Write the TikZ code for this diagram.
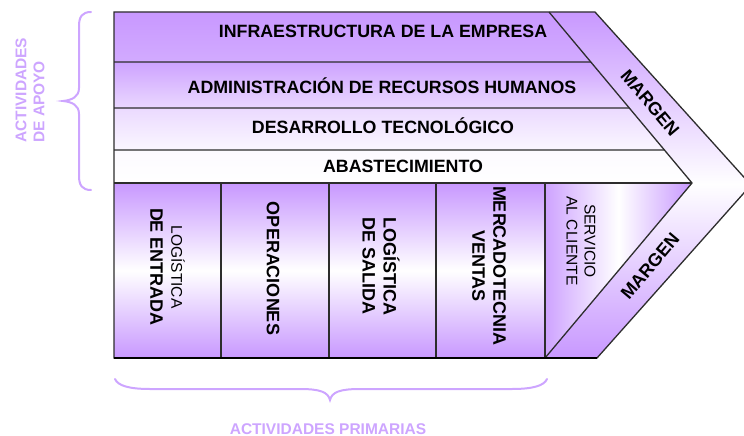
\documentclass[tikz,border=0pt]{standalone}
\usepackage{fontspec}
\setmainfont{Liberation Sans}
\usetikzlibrary{calc}
\definecolor{vp}{RGB}{200,152,255}
\definecolor{vline}{RGB}{45,45,45}
\definecolor{brc}{RGB}{205,165,255}
\begin{document}
\begin{tikzpicture}[x=1pt,y=1pt,
  edge/.style={draw=vline, line width=1.3pt, line join=miter},
  rowlab/.style={anchor=base, inner sep=0pt, font=\fontsize{17.8}{20}\selectfont\bfseries},
  collab/.style={rotate=-90, align=center, inner sep=0pt, font=\fontsize{18}{21}\selectfont\bfseries},
  marglab/.style={inner sep=0pt, font=\fontsize{18}{20}\selectfont\bfseries},
  bracestyle/.style={draw=brc, line width=2pt, line cap=round},
  sidelab/.style={text=brc, inner sep=0pt, font=\fontsize{15.5}{18}\selectfont\bfseries}]
\useasboundingbox (0,0) rectangle (744,-436);
% key points
\coordinate (TL) at (114,-12);
\coordinate (iT) at (549,-12);
\coordinate (oT) at (595,-12);
\coordinate (iP) at (692,-183);
\coordinate (oP) at (751,-185);
\coordinate (oB) at (597,-358);
\coordinate (iB) at (545,-358);
\coordinate (BL) at (114,-358);
\coordinate (l1) at (114,-62);
\coordinate (l2) at (114,-108);
\coordinate (l3) at (114,-150);
\coordinate (l4) at (114,-183);
\coordinate (r1) at ($(iT)!50/171!(iP)$);
\coordinate (r2) at ($(iT)!96/171!(iP)$);
\coordinate (r3) at ($(iT)!138/171!(iP)$);
\coordinate (c1t) at (221,-183); \coordinate (c1b) at (221,-358);
\coordinate (c2t) at (329,-183); \coordinate (c2b) at (329,-358);
\coordinate (c3t) at (436,-183); \coordinate (c3b) at (436,-358);
\coordinate (c4t) at (545,-183);
% support rows
\shade[top color=vp, bottom color=vp!82!white] (TL) -- (iT) -- (r1) -- (l1) -- cycle;
\shade[top color=vp!90!white, bottom color=vp!38!white] (l1) -- (r1) -- (r2) -- (l2) -- cycle;
\shade[top color=vp!36!white, bottom color=vp!8!white] (l2) -- (r2) -- (r3) -- (l3) -- cycle;
\shade[top color=vp!5!white, bottom color=white] (l3) -- (r3) -- (iP) -- (l4) -- cycle;
% primary columns
\shade[top color=vp, bottom color=vp, middle color=white] (l4) rectangle (c1b);
\shade[top color=vp, bottom color=vp, middle color=white] (c1t) rectangle (c2b);
\shade[top color=vp, bottom color=vp, middle color=white] (c2t) rectangle (c3b);
\shade[top color=vp, bottom color=vp, middle color=white] (c3t) rectangle (iB);
\shade[left color=vp!90!white, right color=vp, middle color=white] (c4t) -- (iP) -- (iB) -- cycle;
% margin bands
\shade[top color=vp, bottom color=white] (iT) -- (oT) -- (oP) -- (iP) -- cycle;
\shade[top color=white, bottom color=vp] (iP) -- (oP) -- (oB) -- (iB) -- cycle;
% lines
\draw[edge] (TL) -- (oT) -- (oP) -- (oB) -- (BL) -- cycle;
\draw[edge] (iT) -- (iP) -- (iB);
\draw[edge] (l1) -- (r1);
\draw[edge] (l2) -- (r2);
\draw[edge] (l3) -- (r3);
\draw[edge] (l4) -- (iP);
\draw[edge] (c1t) -- (c1b);
\draw[edge] (c2t) -- (c2b);
\draw[edge] (c3t) -- (c3b);
\draw[edge] (c4t) -- (iB);
\draw[draw=black, line width=2pt] (BL) -- (oB);
% row labels
\node[rowlab] (infra) at (383,-38) {INFRAESTRUCTURA DE LA EMPRESA};
\node[rowlab] (admin) at (382,-93) {ADMINISTRACIÓN DE RECURSOS HUMANOS};
\node[rowlab] (desa) at (383,-133) {DESARROLLO TECNOLÓGICO};
\node[rowlab] (abas) at (403,-172.5) {ABASTECIMIENTO};
% column labels
\node[collab] (col1) at (167.5,-267) {{\fontsize{15.5}{21}\selectfont\mdseries LOGÍSTICA}\\DE ENTRADA};
\node[collab] (col2) at (273,-268.5) {OPERACIONES};
\node[collab] (col3) at (381,-266) {LOGÍSTICA\\DE SALIDA};
\node[collab] (col4) at (489,-266) {MERCADOTECNIA\\VENTAS};
\node[collab, font=\fontsize{15.5}{18}\selectfont] (col5) at (581,-241) {SERVICIO\\AL CLIENTE};
% margin labels
\node[marglab, rotate=-50] (m1) at (650,-103) {MARGEN};
\node[marglab, rotate=50] (m2) at (650,-266) {MARGEN};
% braces
\draw[bracestyle] (91,-12) .. controls (82,-12) and (79,-17) .. (79,-26) -- (79,-88)
  .. controls (79,-97) and (72,-100) .. (63,-101)
  .. controls (72,-102) and (79,-105) .. (79,-114) -- (79,-176)
  .. controls (79,-185) and (82,-190) .. (91,-190);
\draw[bracestyle] (115,-379) .. controls (118,-386) and (130,-389) .. (150,-389) -- (300,-389)
  .. controls (320,-389) and (328,-392) .. (330,-400)
  .. controls (332,-392) and (340,-389) .. (360,-389) -- (512,-389)
  .. controls (532,-389) and (544,-386) .. (547,-379);
% side labels
\node[sidelab, rotate=90, anchor=west, align=left] (apoyo) at (30,-143) {ACTIVIDADES\\DE APOYO};
\node[sidelab, anchor=base] (prim) at (328,-434) {ACTIVIDADES PRIMARIAS};
\end{tikzpicture}
\end{document}
